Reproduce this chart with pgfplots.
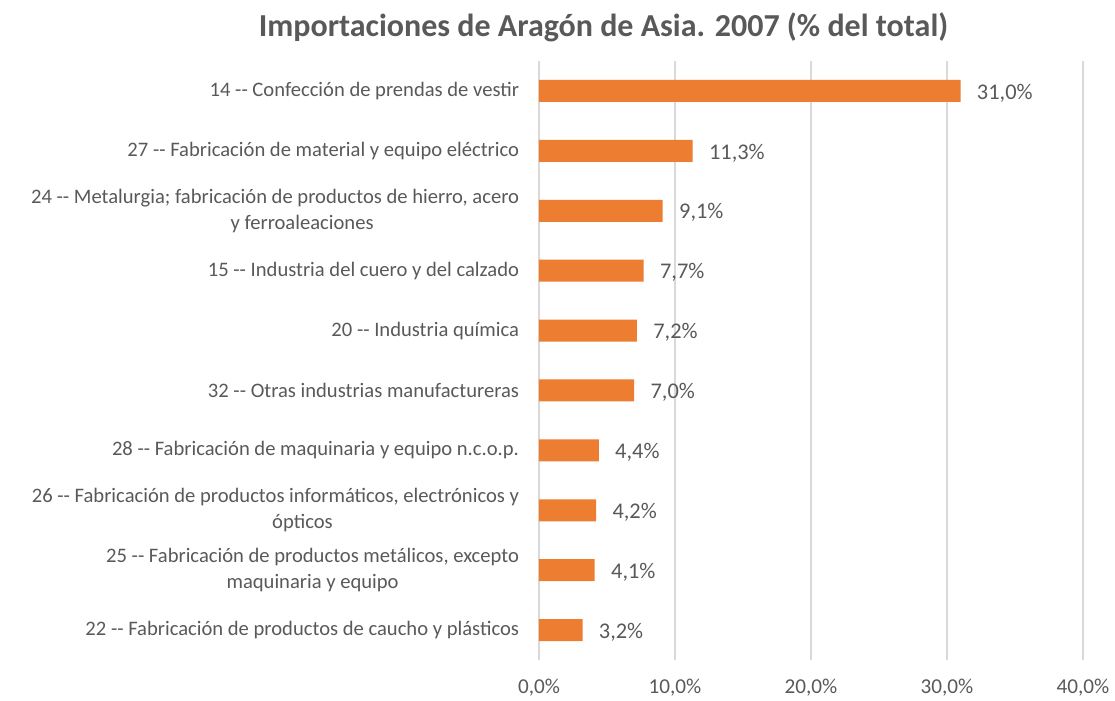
\documentclass[border=0pt]{standalone}
\usepackage{fontspec}
\setmainfont{Carlito}
\usepackage{pgfplots}
\pgfplotsset{compat=1.18}
\definecolor{barorange}{HTML}{ED7D31}
\definecolor{txt}{HTML}{595959}
\definecolor{gridc}{HTML}{D9D9D9}

\begin{document}
\begin{tikzpicture}[x=1pt,y=1pt]
\useasboundingbox (-269.5,-20.5) rectangle (288,330);
\begin{axis}[
    at={(0,0)}, anchor=south west,
    scale only axis, width=272pt, height=299.5pt,
    xbar, bar width=11pt,
    xmin=0, xmax=40, ymin=-0.5, ymax=9.5,
    y dir=reverse,
    axis line style={draw=none},
    tick style={draw=none},
    xmajorgrids, grid style={gridc, line width=0.75pt},
    xtick={0,10,20,30,40},
    xticklabels={{0,0\%},{10,0\%},{20,0\%},{30,0\%},{40,0\%}},
    x tick label style={anchor=center, yshift=-14pt, font=\fontsize{10.6}{12}\selectfont, text=txt},
    ytick={0,...,9},
    yticklabels={
        {14 -{}- Confección de prendas de vestir},
        {27 -{}- Fabricación de material y equipo eléctrico},
        {24 -{}- Metalurgia; fabricación de productos de hierro, acero\\\hspace*{27pt}y ferroaleaciones},
        {15 -{}- Industria del cuero y del calzado},
        {20 -{}- Industria química},
        {32 -{}- Otras industrias manufactureras},
        {28 -{}- Fabricación de maquinaria y equipo n.c.o.p.},
        {26 -{}- Fabricación de productos informáticos, electrónicos y\\\hspace*{27pt}ópticos},
        {25 -{}- Fabricación de productos metálicos, excepto\\maquinaria y equipo},
        {22 -{}- Fabricación de productos de caucho y plásticos}},
    y tick label style={anchor=east, inner sep=0pt, xshift=-5.5pt, align=center,
        font=\fontsize{10.3}{13}\selectfont, text=txt},
    nodes near coords={\pgfmathprintnumber[use comma,fixed,fixed zerofill,precision=1,assume math mode=true]{\pgfplotspointmeta}\%},
    nodes near coords style={anchor=west, inner sep=0pt, xshift=8pt, yshift=-1pt,
        font=\fontsize{11.2}{12}\selectfont, text=txt},
]
\addplot[fill=barorange, draw=none] coordinates {
    (31.0,0) (11.3,1) (9.1,2) (7.7,3) (7.2,4)
    (7.0,5) (4.4,6) (4.2,7) (4.1,8) (3.2,9)
};
\end{axis}
\node[font=\bfseries\fontsize{16}{19}\selectfont, text=txt] at (32.25,316.5)
    {Importaciones de Aragón de Asia. 2007 (\% del total)};
\end{tikzpicture}
\end{document}
